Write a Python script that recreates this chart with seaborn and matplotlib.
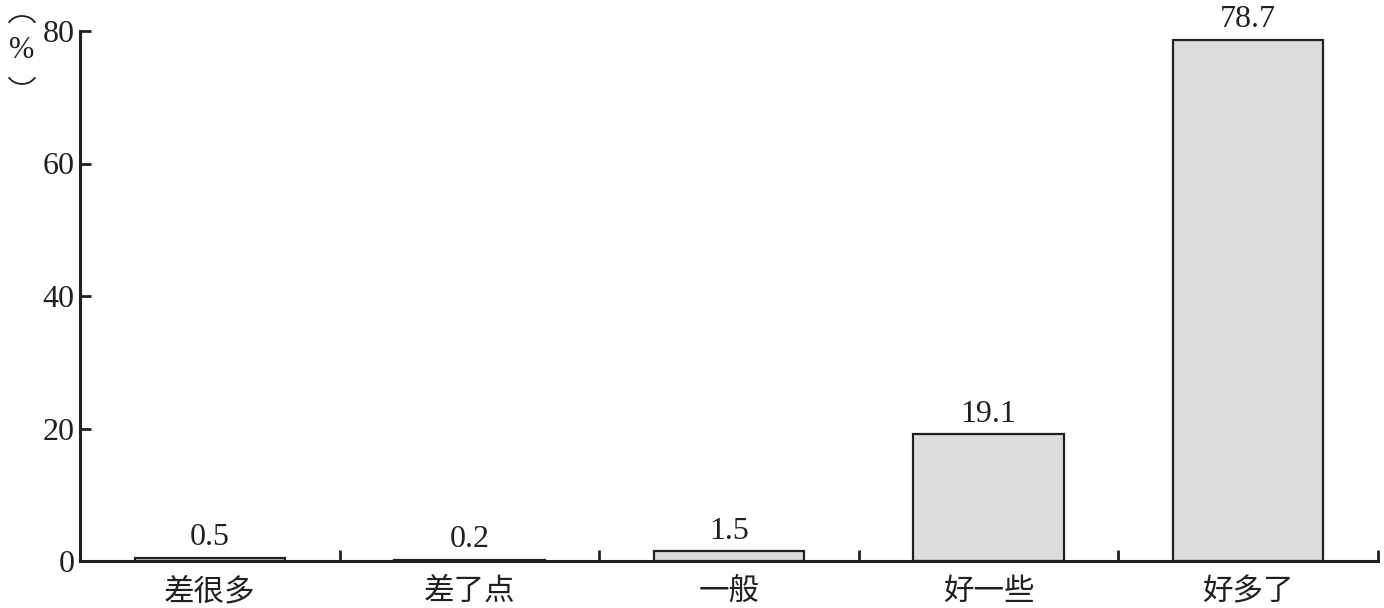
import matplotlib
matplotlib.use("Agg")
import matplotlib.pyplot as plt
import seaborn as sns
import pandas as pd
from matplotlib.ticker import FixedLocator
from matplotlib.patches import Arc

categories = ["差很多", "差了点", "一般", "好一些", "好多了"]
values = [0.5, 0.2, 1.5, 19.1, 78.7]
yticks = [0, 20, 40, 60, 80]

sns.set_theme(style="ticks")
plt.rcParams['font.family'] = ['Liberation Serif', 'Noto Sans CJK SC']

df = pd.DataFrame({"cat": categories, "val": values})

W, H = 1384, 608
fig = plt.figure(figsize=(W/100, H/100), dpi=100)
ax = fig.add_axes([80/W, 1-561/H, (1378-80)/W, (561-31)/H])

sns.barplot(data=df, x="cat", y="val", ax=ax, color="#dcdcdc",
            edgecolor="#231f20", linewidth=1.6, width=0.58, saturation=1)

ax.set_xlim(-0.5, len(categories) - 0.5)
ax.set_ylim(0, 80)
ax.set_yticks(yticks)
ax.set_yticklabels([str(t) for t in yticks], fontsize=23, color="#231f20")
ax.set_xticks(range(len(categories)))
ax.set_xticklabels(categories, fontsize=22, color="#231f20", family=['Noto Sans CJK SC'])
ax.tick_params(axis='x', which='major', length=0, pad=11)
ax.xaxis.set_minor_locator(FixedLocator([i + 0.5 for i in range(len(categories))]))
ax.tick_params(axis='x', which='minor', direction='in', length=8, width=2, color="#231f20")
ax.tick_params(axis='y', direction='in', length=8, width=2, color="#231f20", pad=4)
ax.set_xlabel("")
ax.set_ylabel("")

for s in ["top", "right"]:
    ax.spines[s].set_visible(False)
for s in ["left", "bottom"]:
    ax.spines[s].set_linewidth(2.2)
    ax.spines[s].set_color("#231f20")

for i, v in enumerate(values):
    ax.annotate(f"{v}", (i, v), xytext=(0, 4), textcoords="offset points",
                ha="center", va="bottom", fontsize=23, color="#231f20")

# vertical-style unit label: ︵ % ︶
tr = fig.dpi_scale_trans
fig.patches.append(Arc((22/100, (H-29)/100), 30/100, 26/100, theta1=25, theta2=155,
                       transform=tr, color="#231f20", lw=1.3))
fig.patches.append(Arc((22/100, (H-71)/100), 30/100, 26/100, theta1=205, theta2=335,
                       transform=tr, color="#231f20", lw=1.3))
fig.text(22/W, 1-51/H, "%", ha="center", va="center", fontsize=22, color="#231f20")

fig.savefig("out.png", dpi=100, facecolor="white")
